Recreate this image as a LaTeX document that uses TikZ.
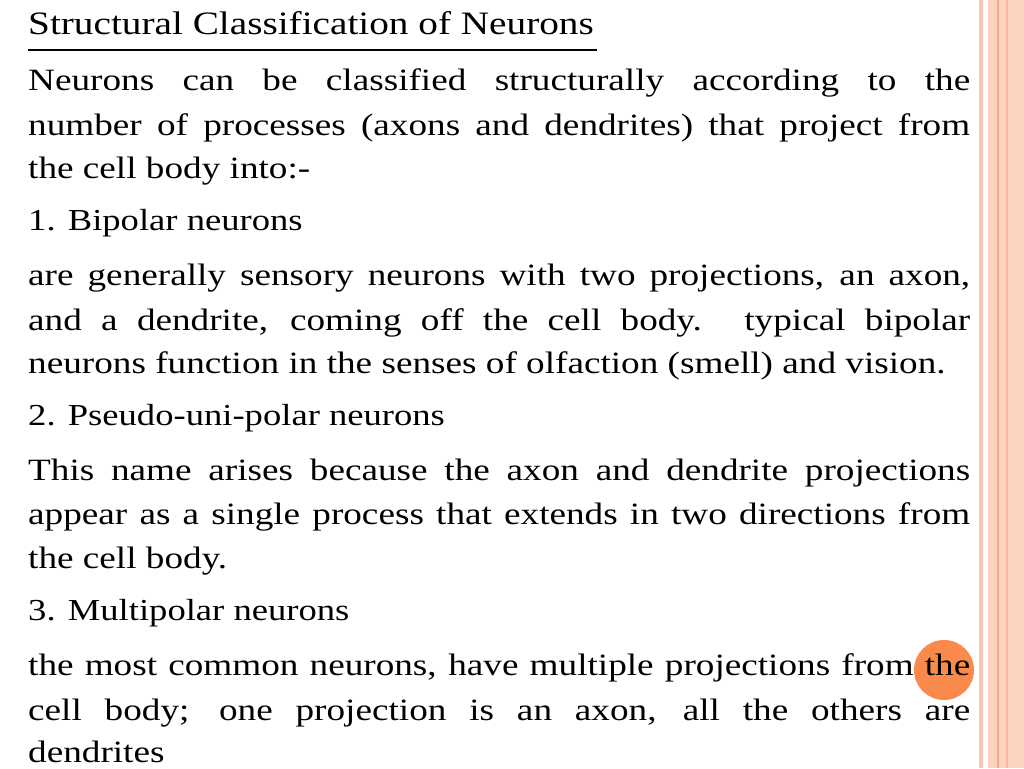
\documentclass[tikz,border=0pt]{standalone}
\usepackage{fontspec}
\setmainfont[FakeStretch=1.2]{Liberation Serif}
\definecolor{stripeA}{HTML}{F9C6B0}
\definecolor{stripeB}{HTML}{FCD3C1}
\definecolor{stripeC}{HTML}{F4A98A}
\definecolor{dot}{HTML}{FA8A4C}
\begin{document}
\begin{tikzpicture}[x=1pt,y=-1pt,
  ln/.style={anchor=base west,inner sep=0pt,font=\fontsize{31}{36}\selectfont},
  hd/.style={anchor=base west,inner sep=0pt,font=\fontsize{32.7}{36}\selectfont},
  nh/.style={anchor=base west,inner sep=0pt,font=\fontsize{30.5}{36}\selectfont}]
\useasboundingbox (0,0) rectangle (1024,768);
\fill[white] (0,0) rectangle (1024,768);
\fill[stripeA] (979,0) rectangle (983,768);
\fill[stripeB] (988,0) rectangle (1024,768);
\fill[stripeC] (997,0) rectangle (999,768);
\fill[stripeC!70!stripeB] (1006,0) rectangle (1008,768);
\fill[dot] (944,670) circle (30);
\node[hd] (h0) at (28,35) {Structural Classification of Neurons};
\draw[line width=1.2pt] (28,50) -- (597,50);
\def\J#1{\makebox[942pt][s]{#1}}
\node[ln] (a1) at (28,90) {\J{Neurons can be classified structurally according to the}};
\node[ln] (a2) at (28,135) {\J{number of processes (axons and dendrites) that project from}};
\node[ln] (a3) at (28,178) {the cell body into:-};
\node[nh] (h1) at (28,230) {1. Bipolar neurons};
\node[ln] (b1) at (28,285) {\J{are generally sensory neurons with two projections, an axon,}};
\node[ln] (b2) at (28,330) {\J{and a dendrite, coming off the cell body. typical bipolar}};
\node[ln] (b3) at (28,373) {neurons function in the senses of olfaction (smell) and vision.};
\node[nh] (h2) at (28,425) {2. Pseudo-uni-polar neurons};
\node[ln] (c1) at (28,480) {\J{This name arises because the axon and dendrite projections}};
\node[ln] (c2) at (28,524) {\J{appear as a single process that extends in two directions from}};
\node[ln] (c3) at (28,568) {the cell body.};
\node[nh] (h3) at (28,620) {3. Multipolar neurons};
\node[ln] (d1) at (28,675) {\J{the most common neurons, have multiple projections from the}};
\node[ln] (d2) at (28,720) {\J{cell body; one projection is an axon, all the others are}};
\node[ln] (d3) at (28,762) {dendrites};
\end{tikzpicture}
\end{document}
